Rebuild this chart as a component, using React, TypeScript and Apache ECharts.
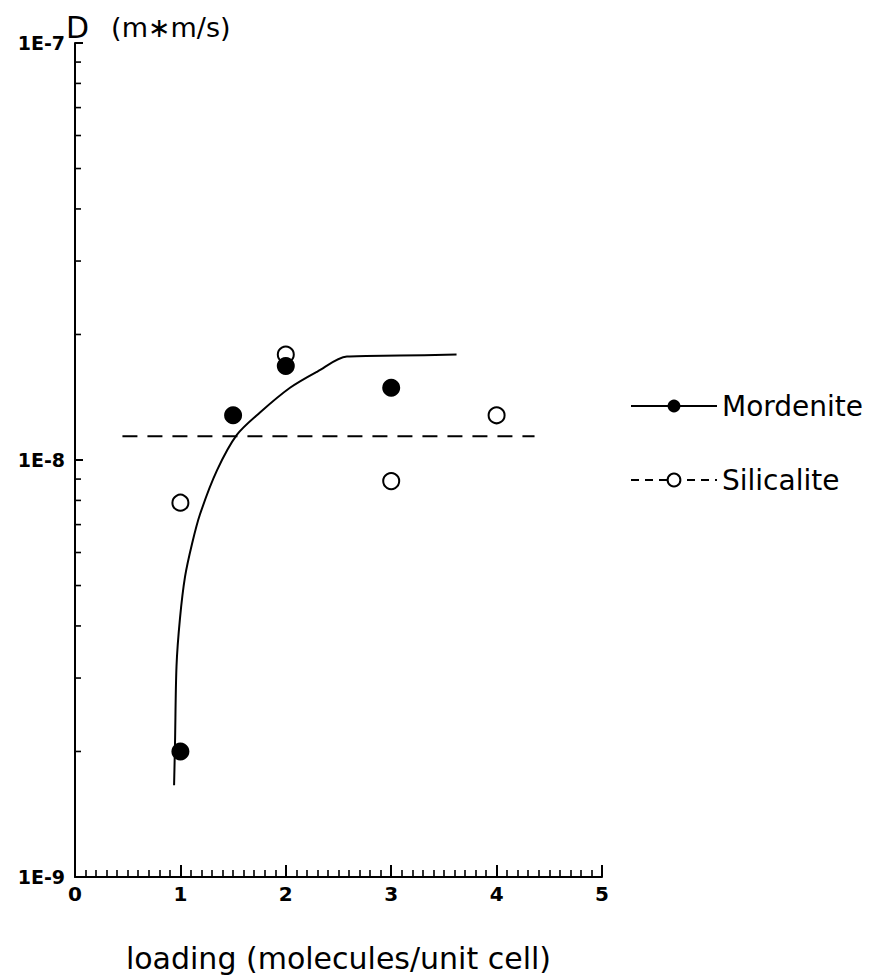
import React, { useEffect, useRef } from "react";
import * as echarts from "echarts";

// ---- data ----
const xTicks = [0, 1, 2, 3, 4, 5];
const yDecades = [1e-9, 1e-8, 1e-7];
const yMinorTickValues = [
  2e-9, 3e-9, 4e-9, 5e-9, 6e-9, 7e-9, 8e-9, 9e-9,
  2e-8, 3e-8, 4e-8, 5e-8, 6e-8, 7e-8, 8e-8, 9e-8,
];

const mordeniteX = [1, 1.5, 2, 3];
const mordeniteY = [2.0e-9, 1.28e-8, 1.68e-8, 1.49e-8];

const silicaliteX = [1, 2, 3, 4];
const silicaliteY = [7.9e-9, 1.79e-8, 8.9e-9, 1.28e-8];

const mordeniteFitX = [0.94, 0.949, 0.963, 0.996, 1.044, 1.11, 1.186, 1.347, 1.537, 1.755, 2.04, 2.3, 2.58, 3.08, 3.62];
const mordeniteFitY = [1.66e-9, 2.1e-9, 3.2e-9, 4.17e-9, 5.25e-9, 6.29e-9, 7.41e-9, 9.44e-9, 1.15e-8, 1.3e-8, 1.49e-8, 1.63e-8, 1.77e-8, 1.78e-8, 1.79e-8];

const silicaliteFitX = [0.45, 4.36];
const silicaliteFitY = [1.14e-8, 1.14e-8];

const seriesNames = ["Mordenite", "Silicalite"];
const xAxisTitle = "loading (molecules/unit cell)";
const yAxisSymbol = "D";
const yAxisUnit = "(m\u2217m/s)";

const FONT = "DejaVu Sans";

function zip(xs: number[], ys: number[]) {
  return xs.map((x, i) => [x, ys[i]]);
}

export default function App() {
  const ref = useRef<HTMLDivElement>(null);

  useEffect(() => {
    document.body.style.margin = "0";
    if (!ref.current) return;
    const chart = echarts.init(ref.current, null, { renderer: "svg" });

    const option: any = {
      animation: false,
      backgroundColor: "#ffffff",
      textStyle: { fontFamily: FONT, color: "#000" },
      title: {
        text: "{d|" + yAxisSymbol + "}{u|" + yAxisUnit + "}",
        left: 66,
        top: 12,
        padding: 0,
        textStyle: {
          fontFamily: FONT,
          fontWeight: "normal",
          fontSize: 28,
          color: "#000",
          rich: {
            d: { fontFamily: FONT, fontWeight: "normal", fontSize: 30, color: "#000", padding: [0, 22, 0, 0] },
            u: { fontFamily: FONT, fontWeight: "normal", fontSize: 27, color: "#000" },
          },
        },
      },
      grid: { left: 75, right: 269, top: 43, bottom: 96, containLabel: false },
      legend: {
        orient: "vertical",
        left: 630,
        top: 392,
        padding: 0,
        itemWidth: 86,
        itemHeight: 16,
        itemGap: 46,
        textStyle: { fontFamily: FONT, fontSize: 28, color: "#000" },
        data: [
          { name: seriesNames[0] },
          { name: seriesNames[1], lineStyle: { type: [8, 6], width: 1.8 } },
        ],
        selectedMode: false,
      },
      xAxis: {
        type: "value",
        min: xTicks[0],
        max: xTicks[xTicks.length - 1],
        interval: 1,
        name: xAxisTitle,
        nameLocation: "middle",
        nameGap: 66,
        nameTextStyle: { fontFamily: FONT, fontSize: 30, color: "#000" },
        axisLine: { show: true, lineStyle: { color: "#000", width: 2 } },
        axisTick: { show: true, inside: true, length: 12, lineStyle: { color: "#000", width: 2 } },
        minorTick: { show: true, splitNumber: 10, length: 7, lineStyle: { color: "#000", width: 1.6 } },
        axisLabel: { fontFamily: FONT, fontSize: 20, fontWeight: "bold", color: "#000", margin: 7 },
        splitLine: { show: false },
        minorSplitLine: { show: false },
      },
      yAxis: {
        type: "log",
        logBase: 10,
        min: yDecades[0],
        max: yDecades[yDecades.length - 1],
        axisLine: { show: true, lineStyle: { color: "#000", width: 2 } },
        axisTick: { show: true, inside: true, length: 8, lineStyle: { color: "#000", width: 2 } },
        axisLabel: {
          fontFamily: FONT,
          fontSize: 19,
          fontWeight: "bold",
          color: "#000",
          margin: 10,
          formatter: (v: number) => "1E-" + Math.round(-Math.log10(v)),
        },
        splitLine: { show: false },
      },
      series: [
        {
          name: seriesNames[0],
          type: "line",
          data: zip(mordeniteFitX, mordeniteFitY),
          symbol: "none",
          smooth: 0.3,
          lineStyle: { color: "#000", width: 2 },
          itemStyle: { color: "#000" },
          z: 2,
        },
        {
          name: seriesNames[1],
          type: "line",
          data: zip(silicaliteFitX, silicaliteFitY),
          symbol: "emptyCircle",
          showSymbol: false,
          lineStyle: { color: "#000", width: 1.8, type: [15, 10] },
          itemStyle: { color: "#000" },
          z: 2,
        },
        {
          name: seriesNames[1],
          type: "scatter",
          data: zip(silicaliteX, silicaliteY),
          symbol: "emptyCircle",
          symbolSize: 16,
          itemStyle: { color: "#000", borderColor: "#000", borderWidth: 2.5, opacity: 1 },
          z: 3,
        },
        {
          name: seriesNames[0],
          type: "scatter",
          data: zip(mordeniteX, mordeniteY),
          symbol: "circle",
          symbolSize: 18,
          itemStyle: { color: "#000", opacity: 1 },
          z: 4,
        },
        {
          name: "y minor ticks",
          type: "custom",
          clip: false,
          silent: true,
          data: yMinorTickValues.map((v) => [xTicks[0], v]),
          renderItem: (_params: any, api: any) => {
            const p = api.coord([api.value(0), api.value(1)]);
            return {
              type: "line",
              shape: { x1: p[0], y1: p[1], x2: p[0] + 6, y2: p[1] },
              style: { stroke: "#000", lineWidth: 1.6 },
            };
          },
          z: 5,
        },
      ],
    };

    chart.setOption(option);
    return () => chart.dispose();
  }, []);

  return <div ref={ref} style={{ width: 871, height: 978, background: "#fff" }} />;
}
